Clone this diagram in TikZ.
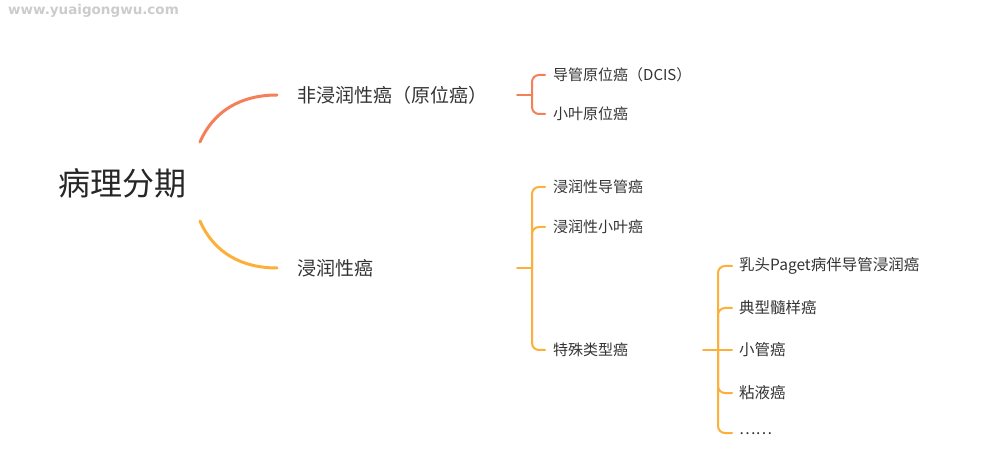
\documentclass[tikz,border=0pt]{standalone}
\usepackage{fontspec}
\newfontfamily\cjk{Noto Sans CJK SC}
\newfontfamily\wmfont{DejaVu Sans}
\definecolor{coral}{RGB}{245,127,88}
\definecolor{amber}{RGB}{252,176,58}
\definecolor{inkgray}{RGB}{51,51,51}

\begin{document}
\begin{tikzpicture}[
    x=1pt, y=-1pt,
    root node/.style={
        font=\cjk\fontsize{32}{32}\selectfont,
        text=black!85,
        inner sep=0pt
    },
    main node/.style={
        anchor=west,
        font=\cjk\fontsize{19}{19}\selectfont,
        text=inkgray,
        inner xsep=20pt,
        inner ysep=0pt
    },
    sub node/.style={
        anchor=west,
        font=\cjk\fontsize{15}{15}\selectfont,
        text=inkgray,
        inner xsep=8pt,
        inner ysep=0pt
    },
    leaf node/.style={
        anchor=west,
        font=\cjk\fontsize{15.5}{15.5}\selectfont,
        text=inkgray,
        inner xsep=7pt,
        inner ysep=0pt
    },
    main curve/.style={
        line width=3pt,
        line cap=round
    },
    brace line/.style={
        line width=2pt,
        line cap=round,
        rounded corners=7pt
    }
]

\useasboundingbox (0,0) rectangle (999,462);

%% --- Filigrane ---
\node[anchor=west, inner sep=0pt, text=black!20,
      font=\wmfont\bfseries\fontsize{13.5}{13.5}\selectfont] (wm) at (8,11) {www.yuaigongwu.com};

%% --- Racine ---
\node[root node] (root) at (122,183) {病理分期};
\coordinate (r1) at (200,142);
\coordinate (r2) at (200,221);

%% --- Niveau 1 ---
\node[main node] (N1) at (277,95)  {非浸润性癌（原位癌）};
\node[main node] (N2) at (277,268) {浸润性癌};

\draw[main curve, coral] (r1) .. controls (214,110) and (242,95) .. (N1.west);
\draw[main curve, amber] (r2) .. controls (214,253) and (242,268) .. (N2.west);

%% --- Niveau 2 : non invasif ---
\node[sub node] (A1) at (545,75)  {导管原位癌（DCIS）};
\node[sub node] (A2) at (545,114) {小叶原位癌};

\coordinate (k1) at (517,95);
\coordinate (s1) at (532,95);
\draw[brace line, coral] (k1) -- (s1);
\foreach \dst in {1,2} {
    \draw[brace line, coral] (s1) |- (A\dst.west);
}

%% --- Niveau 2 : invasif ---
\node[sub node] (B1) at (545,187) {浸润性导管癌};
\node[sub node] (B2) at (545,227) {浸润性小叶癌};
\node[sub node] (B3) at (545,350) {特殊类型癌};

\coordinate (k2) at (517,268);
\coordinate (s2) at (532,268);
\draw[brace line, amber] (k2) -- (s2);
\foreach \dst in {1,2,3} {
    \draw[brace line, amber] (s2) |- (B\dst.west);
}

%% --- Niveau 3 : types particuliers ---
\node[leaf node] (C1) at (732,266) {乳头Paget病伴导管浸润癌};
\node[leaf node] (C2) at (732,308) {典型髓样癌};
\node[leaf node] (C3) at (732,350) {小管癌};
\node[leaf node] (C4) at (732,393) {粘液癌};
\node[leaf node] (C5) at (732,433) {\raisebox{-4pt}{……}};

\coordinate (k3) at (703,350);
\coordinate (s3) at (718,350);
\draw[brace line, amber] (k3) -- (C3.west);
\foreach \dst in {1,2,4,5} {
    \draw[brace line, amber] (s3) |- (C\dst.west);
}

\end{tikzpicture}
\end{document}
